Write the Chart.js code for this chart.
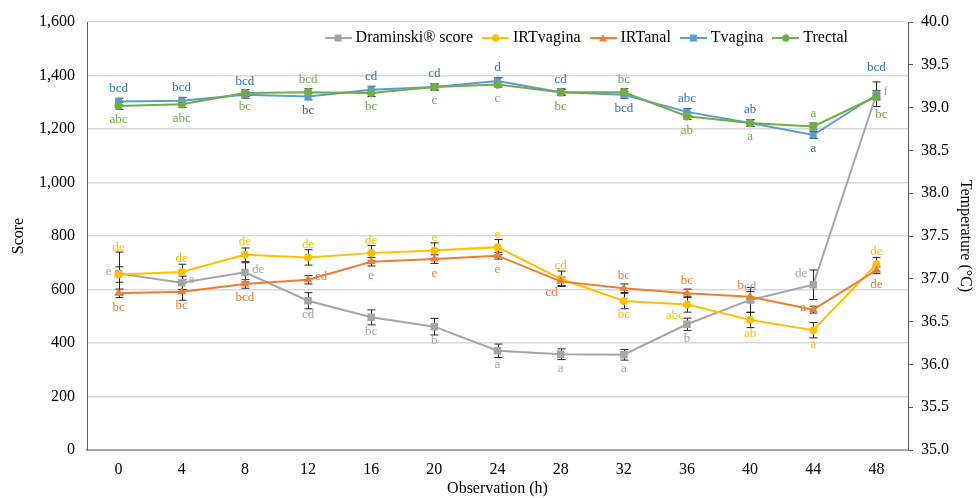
<!DOCTYPE html>
<html>
<head>
<meta charset="utf-8">
<script src="https://cdn.jsdelivr.net/npm/chart.js@4.4.1/dist/chart.umd.min.js"></script>
<style>
  body { margin: 0; background: #fff; }
</style>
</head>
<body>
<canvas id="c" width="978" height="498"></canvas>
<script>
// Observation hours
const hours = ['0','4','8','12','16','20','24','28','32','36','40','44','48'];

// Draminski score (left axis)
const draminski    = [660, 625, 664, 558, 496, 461, 371, 358, 356, 470, 561, 618, 1330];
const draminskiErr = [80, 25, 36, 30, 28, 31, 25, 20, 20, 23, 47, 55, 46];
const draminskiLet = ['e','e','de','cd','bc','b','a','a','a','b','cd','de','f'];

// temperatures (right axis)
const irtVagina    = [37.05, 37.08, 37.28, 37.25, 37.30, 37.33, 37.37, 37.00, 36.74, 36.70, 36.52, 36.40, 37.17];
const irtVaginaErr = [0.09, 0.09, 0.08, 0.09, 0.09, 0.09, 0.09, 0.09, 0.09, 0.09, 0.09, 0.09, 0.08];
const irtVaginaLet = ['de','de','de','de','de','e','e','cd','bc','abc','ab','a','de'];

const irtAnal    = [36.83, 36.85, 36.94, 36.99, 37.20, 37.23, 37.27, 36.97, 36.89, 36.83, 36.79, 36.64, 37.10];
const irtAnalErr = [0.05, 0.10, 0.05, 0.05, 0.05, 0.05, 0.04, 0.05, 0.05, 0.05, 0.06, 0.04, 0.04];
const irtAnalLet = ['bc','bc','bcd','cd','e','e','e','cd','bc','bc','b','a','de'];

const tVagina    = [39.07, 39.08, 39.15, 39.13, 39.21, 39.24, 39.31, 39.18, 39.15, 38.95, 38.82, 38.68, 39.15];
const tVaginaErr = [0.04, 0.04, 0.04, 0.04, 0.04, 0.04, 0.04, 0.04, 0.04, 0.04, 0.04, 0.04, 0.05];
const tVaginaLet = ['bcd','bcd','bcd','bc','cd','cd','d','cd','bcd','abc','ab','a','bcd'];

const tRectal    = [39.02, 39.04, 39.17, 39.18, 39.17, 39.24, 39.27, 39.18, 39.18, 38.90, 38.82, 38.78, 39.13];
const tRectalErr = [0.04, 0.04, 0.04, 0.04, 0.04, 0.03, 0.03, 0.03, 0.04, 0.04, 0.04, 0.04, 0.04];
const tRectalLet = ['abc','abc','bc','bcd','bc','c','c','bc','bc','ab','a','a','bc'];

// where each letter sits around its point
const draminskiPos = ['l','r','r','b','b','b','b','b','b','b','a','al','r'];
const irtVaginaPos = ['A','a','a','a','a','a','a','a','b','bl','b','b','a'];
const irtAnalPos   = ['b','b','b','r','b','b','b','bl','a','a','al','l','b'];
const tVaginaPos   = ['a','a','a','b','a','a','a','a','b','a','a','b','A'];
const tRectalPos   = ['b','b','b','a','b','b','b','b','a','b','b','a','br'];

const FONT = '"Liberation Serif", "Times New Roman", serif';
const POS = {
  a: [0, -13, 'center'], A: [0, -27, 'center'], b: [0, 14, 'center'],
  l: [-7, -2, 'right'], r: [7, -3, 'left'], al: [-6, -11, 'right'],
  bl: [-3, 11, 'right'], br: [5, 18, 'center']
};

function legendIcon(color, style) {
  const cv = document.createElement('canvas');
  cv.width = 27; cv.height = 12;
  const g = cv.getContext('2d');
  g.strokeStyle = color; g.fillStyle = color; g.lineWidth = 2;
  g.beginPath(); g.moveTo(0, 6); g.lineTo(27, 6); g.stroke();
  g.beginPath();
  if (style === 'rect') g.rect(10, 2.5, 7, 7);
  else if (style === 'triangle') { g.moveTo(13.5, 2); g.lineTo(17.5, 9.5); g.lineTo(9.5, 9.5); g.closePath(); }
  else g.arc(13.5, 6, 3.7, 0, Math.PI * 2);
  g.fill();
  return cv;
}

function series(label, data, errors, letters, pos, color, letterColor, style, radius, axis, order) {
  return {
    label, data, errors, letters, pos, letterColor, yAxisID: axis, order,
    borderColor: color, backgroundColor: color, pointBackgroundColor: color, pointBorderColor: color,
    pointStyle: style, pointRadius: radius, pointBorderWidth: 0, borderWidth: 2, tension: 0
  };
}

const datasets = [
  series('Draminski® score', draminski, draminskiErr, draminskiLet, draminskiPos, '#A5A5A5', '#A5A5A5', 'rect', 5.3, 'y', 5),
  series('IRTvagina', irtVagina, irtVaginaErr, irtVaginaLet, irtVaginaPos, '#FFC000', '#FFC000', 'circle', 4, 'y1', 4),
  series('IRTanal', irtAnal, irtAnalErr, irtAnalLet, irtAnalPos, '#ED7D31', '#ED7D31', 'triangle', 5, 'y1', 3),
  series('Tvagina', tVagina, tVaginaErr, tVaginaLet, tVaginaPos, '#5B9BD5', '#2E75B6', 'rect', 4.9, 'y1', 2),
  series('Trectal', tRectal, tRectalErr, tRectalLet, tRectalPos, '#70AD47', '#70AD47', 'circle', 4.2, 'y1', 1)
];
// the one dark label at 12 h
datasets[3].letterColors = { 3: '#44546A' };

const errorBars = {
  id: 'errorBars',
  beforeDatasetsDraw(chart) {
    const ctx = chart.ctx;
    ctx.save();
    ctx.strokeStyle = '#262626';
    ctx.lineWidth = 1;
    chart.data.datasets.forEach((ds, i) => {
      const ys = chart.scales[ds.yAxisID];
      chart.getDatasetMeta(i).data.forEach((pt, j) => {
        const top = ys.getPixelForValue(ds.data[j] + ds.errors[j]);
        const bot = ys.getPixelForValue(ds.data[j] - ds.errors[j]);
        const x = Math.round(pt.x) + 0.5;
        ctx.beginPath();
        ctx.moveTo(x, top); ctx.lineTo(x, bot);
        ctx.moveTo(x - 4, top); ctx.lineTo(x + 4, top);
        ctx.moveTo(x - 4, bot); ctx.lineTo(x + 4, bot);
        ctx.stroke();
      });
    });
    ctx.restore();
  }
};

const letterLabels = {
  id: 'letterLabels',
  afterDatasetsDraw(chart) {
    const ctx = chart.ctx;
    ctx.save();
    ctx.font = '13px ' + FONT;
    ctx.textBaseline = 'middle';
    chart.data.datasets.forEach((ds, i) => {
      chart.getDatasetMeta(i).data.forEach((pt, j) => {
        const p = POS[ds.pos[j]];
        ctx.fillStyle = (ds.letterColors && ds.letterColors[j]) || ds.letterColor;
        ctx.textAlign = p[2];
        ctx.fillText(ds.letters[j], pt.x + p[0], pt.y + p[1]);
      });
    });
    ctx.restore();
  }
};

// legend sits inside the plot, right of centre
const legendShift = {
  id: 'legendShift',
  beforeDraw(chart) {
    const lg = chart.legend;
    lg.right = chart.chartArea.right - 47;
    lg.top = chart.chartArea.top - 5;
    lg.bottom = lg.top + 40;
  }
};

new Chart(document.getElementById('c'), {
  type: 'line',
  data: { labels: hours, datasets },
  plugins: [errorBars, letterLabels, legendShift],
  options: {
    responsive: false,
    animation: false,
    layout: { padding: { top: 22, right: 0, bottom: 0, left: 0 } },
    plugins: {
      tooltip: { enabled: false },
      legend: {
        position: 'top',
        align: 'end',
        maxHeight: 0.01,
        labels: {
          usePointStyle: true,
          pointStyleWidth: 19,
          padding: 13,
          color: '#000',
          font: { family: FONT, size: 16 },
          generateLabels(chart) {
            return chart.data.datasets.map((ds, i) => ({
              text: ds.label, datasetIndex: i, fontColor: '#000',
              pointStyle: legendIcon(ds.borderColor, ds.pointStyle),
              fillStyle: ds.borderColor, strokeStyle: ds.borderColor, lineWidth: 0, hidden: false
            }));
          }
        }
      }
    },
    scales: {
      x: {
        offset: true,
        grid: { display: false, drawTicks: false },
        border: { color: '#A6A6A6', width: 2 },
        ticks: { color: '#000', padding: 10, font: { family: FONT, size: 16 } },
        title: { display: true, text: 'Observation (h)', color: '#000', padding: { top: 5, bottom: 0 }, font: { family: FONT, size: 16 } },
        afterFit(s) { s.height = 48; }
      },
      y: {
        position: 'left',
        min: 0, max: 1600,
        ticks: { stepSize: 200, color: '#000', padding: 12, font: { family: FONT, size: 16 },
          callback: v => v.toLocaleString('en-US') },
        grid: { color: '#D9D9D9', lineWidth: 1.5, drawTicks: false },
        border: { color: '#595959', width: 1 },
        title: { display: true, text: 'Score', color: '#000', padding: { top: 9, bottom: 0 }, font: { family: FONT, size: 16 } },
        afterFit(s) { s.width = 87; }
      },
      y1: {
        position: 'right',
        min: 35, max: 40,
        ticks: { stepSize: 0.5, color: '#000', padding: 8, font: { family: FONT, size: 16 },
          callback: v => v.toFixed(1) },
        grid: { drawOnChartArea: false, drawTicks: true, tickLength: 5, tickColor: '#595959' },
        border: { color: '#595959', width: 1 },
        title: { display: true, text: 'Temperature (°C)', color: '#000', padding: { top: 3, bottom: 0 }, font: { family: FONT, size: 16 } },
        afterFit(s) { s.width = 70; }
      }
    }
  }
});
</script>
</body>
</html>
